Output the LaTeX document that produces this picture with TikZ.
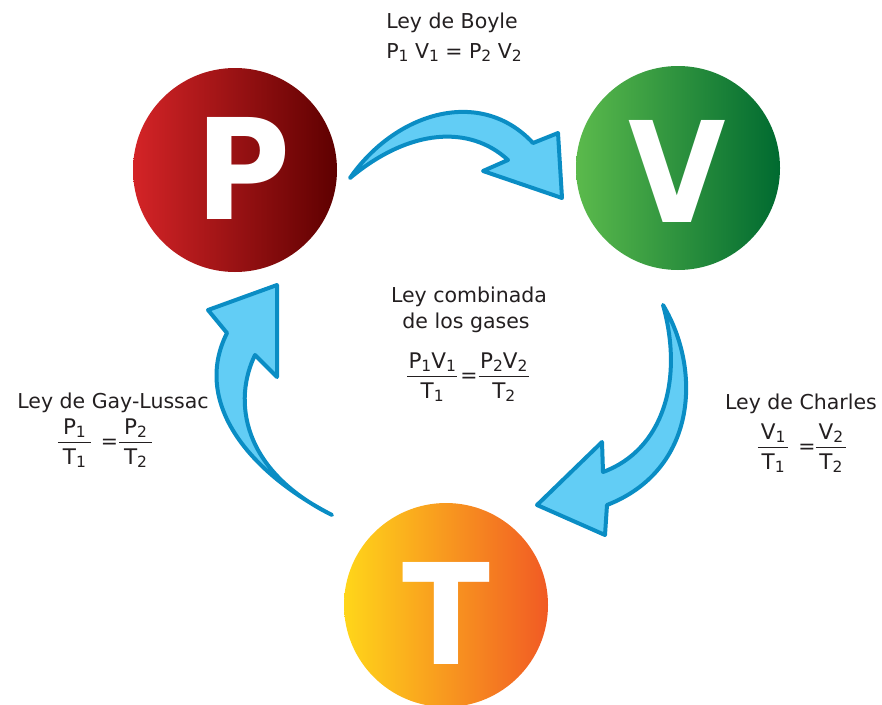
\documentclass[tikz,border=0pt]{standalone}
\usepackage{fontspec}
\setmainfont{DejaVu Sans}
\newfontfamily\bigletter{DejaVu Sans Bold}
\definecolor{txt}{HTML}{231F20}
\definecolor{arrline}{HTML}{0A8DC4}
\definecolor{arrfill}{HTML}{62CDF5}
\definecolor{pL}{HTML}{D42427}
\definecolor{pR}{HTML}{5E0000}
\definecolor{vL}{HTML}{5BBA4C}
\definecolor{vR}{HTML}{006A30}
\definecolor{tL}{HTML}{FFD61A}
\definecolor{tR}{HTML}{F15A24}
\newcommand{\lo}[1]{\raisebox{-3.2pt}{\fontsize{15.5}{15.5}\selectfont #1}}
\newcommand{\fr}[3][2pt]{$\vcenter{\halign{\hskip#1\hfil##\hfil\hskip#1\cr\fontsize{21.5}{24}\selectfont #2\cr
  \noalign{\kern4.5pt\hrule height 1.6pt\kern5.5pt}\fontsize{21.5}{24}\selectfont #3\cr}}$}
\begin{document}
\begin{tikzpicture}[x=1pt,y=-1pt,
  ball/.style={circle,minimum size=204pt,inner sep=0pt},
  bigl/.style={text=white,font=\bigletter\fontsize{140}{140}\selectfont,inner sep=0pt},
  lbl/.style={text=txt,font=\fontsize{20.5}{24}\selectfont,inner sep=0pt,anchor=base},
  eqn/.style={text=txt,font=\fontsize{20.5}{24}\selectfont,inner sep=0pt},
  flow/.style={draw=arrline,fill=arrfill,line width=4pt,line join=round}]
\useasboundingbox (0,0) rectangle (882,704);
% circles
\node[ball,left color=pL,right color=pR] (P) at (235,170) {};
\node[ball,left color=vL,right color=vR] (V) at (678,168) {};
\node[ball,left color=tL,right color=tR] (T) at (446,605) {};
\node[bigl] (Pl) at (243,168) {\scalebox{0.93}[1]{P}};
\node[bigl] (Vl) at (677,171) {\scalebox{0.9}[1]{V}};
\node[bigl] (Tl) at (446,613) {\scalebox{0.92}[1]{T}};
% Boyle arrow (P -> V)
\coordinate (b0) at (350,178);
\coordinate (b1) at (533,143);
\coordinate (b2) at (558,133);
\coordinate (b3) at (562,198);
\coordinate (b4) at (483,171);
\coordinate (b5) at (508,160);
\draw[flow] (b0) .. controls (395,113) and (480,86) .. (b1) -- (b2) -- (b3) -- (b4) -- (b5)
  .. controls (470,125) and (410,128) .. cycle;
% Charles arrow (V -> T)
\coordinate (c0) at (663,305);
\coordinate (c1) at (607,505);
\coordinate (c2) at (605,535);
\coordinate (c3) at (537,505);
\coordinate (c4) at (602,442);
\coordinate (c5) at (603,472);
\draw[flow] (c0) .. controls (702,370) and (697,470) .. (c1) -- (c2) -- (c3) -- (c4) -- (c5)
  .. controls (663,450) and (684,380) .. cycle;
% Gay-Lussac arrow (T -> P)
\coordinate (g0) at (332,515);
\coordinate (g1) at (227,333);
\coordinate (g2) at (208,310);
\coordinate (g3) at (277,285);
\coordinate (g4) at (277,377);
\coordinate (g5) at (255,355);
\draw[flow] (g0) .. controls (245,470) and (193,400) .. (g1) -- (g2) -- (g3) -- (g4) -- (g5)
  .. controls (233,400) and (241,470) .. cycle;
% labels
\node[lbl] (boyle) at (452,28) {Ley de Boyle};
\node[lbl] (boyleq) at (454,58) {P\lo{1} V\lo{1} = P\lo{2} V\lo{2}};
\node[lbl] (comb) at (469,302) {Ley combinada};
\node[lbl] (comb2) at (466,328) {de los gases};
\node[eqn] (combq) at (468,377) {\fr[1.5pt]{P\lo{1}V\lo{1}}{T\lo{1}}\hspace{3pt}=\hspace{1pt}\fr[1.5pt]{P\lo{2}V\lo{2}}{T\lo{2}}};
\node[lbl] (gay) at (113,408) {Ley de Gay-Lussac};
\node[eqn] (gayq) at (105,443) {\fr[5pt]{P\lo{1}}{T\lo{1}}\hspace{10pt}=\hspace{1pt}\fr[5pt]{P\lo{2}}{T\lo{2}}};
\node[lbl] (cha) at (801,409) {Ley de Charles};
\node[eqn] (chaq) at (802,448) {\fr[3pt]{V\lo{1}}{T\lo{1}}\hspace{10pt}=\hspace{0pt}\fr[3pt]{V\lo{2}}{T\lo{2}}};
\end{tikzpicture}
\end{document}
